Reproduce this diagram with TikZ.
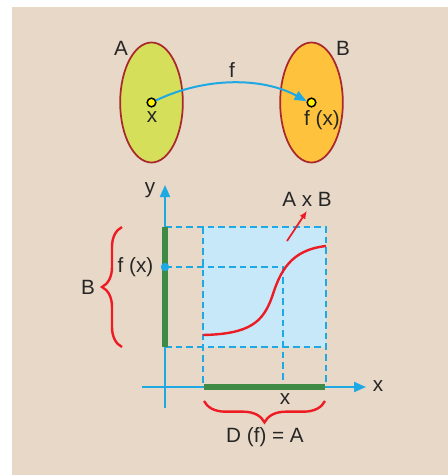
\documentclass[tikz,border=0pt]{standalone}
\usepackage{fontspec}
\setmainfont{Liberation Sans}
\usetikzlibrary{arrows.meta,decorations.pathreplacing,shapes.geometric}
\definecolor{paper}{HTML}{E8D8C8}
\definecolor{sky}{HTML}{1EA8E4}
\definecolor{skypale}{HTML}{C6E8F8}
\definecolor{leaf}{HTML}{3F8A44}
\definecolor{lime}{HTML}{D5DF5A}
\definecolor{amber}{HTML}{FFC23C}
\definecolor{rim}{HTML}{A8282C}
\definecolor{pen}{HTML}{ED1C24}
\tikzset{
  map/set/.style={ellipse, draw=rim, line width=1.3pt, inner sep=0pt,
    minimum width=47pt, minimum height=90pt},
  map/dot/.style={circle, draw=black, fill=yellow, line width=1.1pt,
    inner sep=0pt, minimum size=6.5pt},
  map/arrow/.style={sky, line width=1.5pt, -{Triangle[length=9pt,width=7pt]}},
  plot/axis/.style={sky, line width=1.5pt},
  plot/guide/.style={sky, line width=0.9pt, dash pattern=on 5pt off 3pt},
  plot/bar/.style={leaf, line width=4.5pt},
  plot/curve/.style={pen, line width=1.8pt},
  plot/brace/.style={pen, line width=1.8pt, decorate,
    decoration={brace, amplitude=15pt}},
}

\begin{document}
\begin{tikzpicture}[x=0.75pt, y=-0.75pt,
    every node/.style={font=\fontsize{15.5pt}{18pt}\selectfont, text=black!85}]
  \useasboundingbox (0,0) rectangle (448,475);
  \fill[paper] (12,7) rectangle (448,475);
  % the map f : A -> B
  \node[map/set, fill=lime] (setA) at (151.5,102.5) {};
  \node[map/set, fill=amber] (setB) at (311.5,102.5) {};
  \node (labA) at (121,48) {A};
  \node (labB) at (343,48) {B};
  \node[map/dot] (px) at (151.5,102.5) {};
  \node[map/dot] (pfx) at (311.5,102.5) {};
  \node (labx) at (152,117) {x};
  \node (labfx) at (322,120) {f (x)};
  \draw[map/arrow] (px.25) .. controls (205,77) and (262,77) .. (pfx.165);
  \node (labf) at (232,70) {f};
  % graph
  \fill[skypale] (203,227) rectangle (326,347);
  \coordinate (ytop) at (165,227);
  \coordinate (ybot) at (165,347);
  \coordinate (yfx) at (165,267);
  \coordinate (xleft) at (203,387);
  \coordinate (xright) at (326,387);
  \coordinate (xval) at (283,387);
  \draw[plot/guide] (ytop) -- (326,227) -- (xright);
  \draw[plot/guide] (ybot) -- (326,347);
  \draw[plot/guide] (203,227) -- (xleft);
  \draw[plot/guide] (yfx) -- (283,267) -- (xval);
  \coordinate (yend) at (165,408);
  \coordinate (ytip) at (165,185);
  \coordinate (xend) at (142,387);
  \coordinate (xtip) at (366,387);
  \draw[plot/axis, -{Triangle[length=9pt,width=7.5pt]}] (yend) -- (ytip);
  \draw[plot/axis, -{Triangle[length=9pt,width=7.5pt]}] (xend) -- (xtip);
  \node (laby) at (150,190) {y};
  \node (labxaxis) at (378,386) {x};
  \draw[plot/bar] (ytop) -- (ybot);
  \draw[plot/bar] (204,387) -- (325,387);
  \draw[plot/curve] (203,335) .. controls (250,334) and (263,322) .. (272,297)
    .. controls (280,272) and (290,250) .. (326,246);
  \fill[sky] (yfx) circle (4.2);
  \node[anchor=east] (labfxy) at (158,267) {f (x)};
  \node (labAB) at (307,199) {A x B};
  \draw[pen, line width=1.3pt, -{Latex[length=6pt,width=5pt]}] (287,241) -- (labAB.south);
  % braces
  \draw[plot/brace] (122,347) -- (122,227);
  \node (labBy) at (88,287) {B};
  \draw[plot/brace, decoration={amplitude=16pt}] (325,401) -- (204,401);
  \node (labxx) at (285,399) {x};
  \node (labD) at (265,437) {D (f) = A};
\end{tikzpicture}
\end{document}
